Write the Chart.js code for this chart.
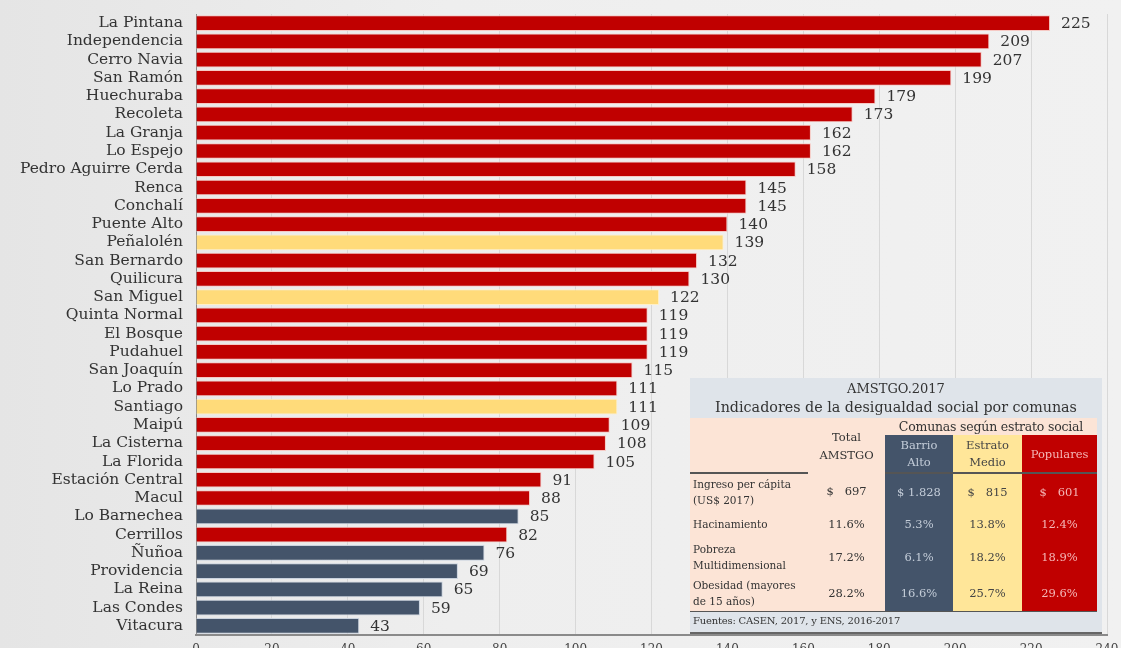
<!DOCTYPE html>
<html>
<head>
<meta charset="utf-8">
<script src="https://cdn.jsdelivr.net/npm/chart.js@4/dist/chart.umd.min.js"></script>
<style>
  html, body { margin:0; padding:0; width:1121px; height:648px; overflow:hidden;
    background: linear-gradient(to right, #e5e5e5 0%, #eeeeee 40%, #f1f1f1 100%); }
  #wrap { position:absolute; left:0; top:0; width:1121px; height:662px; }
  #panel { position:absolute; left:690px; top:378px; width:412px; height:255px;
    background:#dfe4ea; font-family:"DejaVu Serif", serif; color:#333; }
  #panel .t1 { position:absolute; left:0; width:412px; top:3px; text-align:center; font-size:13px; color:#333; }
  #panel .t2 { position:absolute; left:0; width:412px; top:21px; text-align:center; font-size:14.3px; color:#333; }
  #tbl { position:absolute; left:0; top:40px; border-collapse:collapse; font-size:10.5px; table-layout:fixed; }
  #tbl td { padding:0 3px; background:#fce4d6; color:#333; line-height:16px; white-space:nowrap; }
  #tbl .num { text-align:center; font-size:11.5px; }
  #tbl .ba { background:#44546a; color:#c3ccd8; text-align:center; font-size:11.5px; }
  #tbl .em { background:#ffe699; color:#444; text-align:center; font-size:11.5px; }
  #tbl .po { background:#c00000; color:#f4b6b6; text-align:center; font-size:11.5px; }
  #tbl tr.hdr td { border-bottom:2px solid #555; }
  #tbl tr.last td { border-bottom:1.5px solid #555; }
  #panel .src { position:absolute; left:3px; top:237px; font-size:10px; color:#333; letter-spacing:-0.2px; }
  #panel .bl { position:absolute; left:0; top:254px; width:412px; height:2px; background:#666; }
</style>
</head>
<body>
<div id="wrap"><canvas id="c" width="1121" height="662"></canvas></div>
<div id="panel">
  <div class="t1" id="t1"></div>
  <div class="t2" id="t2"></div>
  <table id="tbl"></table>
  <div class="src" id="src"></div>
  <div class="bl"></div>
</div>
<script>
const categories = ["La Pintana","Independencia","Cerro Navia","San Ramón","Huechuraba","Recoleta","La Granja","Lo Espejo","Pedro Aguirre Cerda","Renca","Conchalí","Puente Alto","Peñalolén","San Bernardo","Quilicura","San Miguel","Quinta Normal","El Bosque","Pudahuel","San Joaquín","Lo Prado","Santiago","Maipú","La Cisterna","La Florida","Estación Central","Macul","Lo Barnechea","Cerrillos","Ñuñoa","Providencia","La Reina","Las Condes","Vitacura"];
const values = [225,209,207,199,179,173,162,162,158,145,145,140,139,132,130,122,119,119,119,115,111,111,109,108,105,91,88,85,82,76,69,65,59,43];
const strata = ["P","P","P","P","P","P","P","P","P","P","P","P","M","P","P","M","P","P","P","P","P","M","P","P","P","P","P","A","P","A","A","A","A","A"];
const xTicks = [0,20,40,60,80,100,120,140,160,180,200,220,240];

const panelTitle = "AMSTGO.2017";
const panelSubtitle = "Indicadores de la desigualdad social por comunas";
const groupHeader = "Comunas según estrato social";
const colHeaders = ["Total<br>AMSTGO","Barrio<br>Alto","Estrato<br>Medio","Populares"];
const rowLabels = ["Ingreso per cápita<br>(US$ 2017)","Hacinamiento","Pobreza<br>Multidimensional","Obesidad (mayores<br>de 15 años)"];
const rowTotal = ["$&nbsp;&nbsp;&nbsp;697","11.6%","17.2%","28.2%"];
const rowAlto = ["$ 1.828","5.3%","6.1%","16.6%"];
const rowMedio = ["$&nbsp;&nbsp;&nbsp;815","13.8%","18.2%","25.7%"];
const rowPop = ["$&nbsp;&nbsp;&nbsp;601","12.4%","18.9%","29.6%"];
const rowHeights = [36,30,36,36];
const sourceText = "Fuentes: CASEN, 2017, y ENS, 2016-2017";

const colorMap = { P:"#c00000", M:"#ffdb7a", A:"#44546a" };
const borderMap = { P:"#f6c9c4", M:"#fff0c8", A:"#c9d2de" };

const valueLabels = {
  id:"valueLabels",
  afterDatasetsDraw(chart){
    const ctx = chart.ctx;
    const meta = chart.getDatasetMeta(0);
    ctx.save();
    ctx.font = "15.5px 'DejaVu Serif'";
    ctx.fillStyle = "#333";
    ctx.textBaseline = "middle";
    ctx.textAlign = "left";
    meta.data.forEach((el,i)=>{
      ctx.fillText(String(values[i]), el.x + 11, el.y + 1);
    });
    ctx.restore();
  }
};

new Chart(document.getElementById("c"), {
  type:"bar",
  data:{
    labels: categories,
    datasets:[{
      data: values,
      backgroundColor: strata.map(s=>colorMap[s]),
      borderColor: strata.map(s=>borderMap[s]),
      borderWidth: 1,
      categoryPercentage: 1,
      barPercentage: 0.86
    }]
  },
  options:{
    indexAxis:"y",
    responsive:false,
    animation:false,
    layout:{ padding:{ left:0, right:14, top:14, bottom:0 } },
    plugins:{ legend:{display:false}, tooltip:{enabled:false} },
    scales:{
      x:{
        min:0, max:240,
        afterBuildTicks(s){ s.ticks = xTicks.map(v=>({value:v})); },
        afterFit(s){ s.height = 27; s.paddingLeft = 0; s.paddingRight = 0; },
        grid:{ color:"#d8d8d8", lineWidth:1, drawTicks:false },
        border:{ display:true, color:"#8a8a8a", width:2 },
        ticks:{ padding:8, color:"#444", font:{ family:"DejaVu Serif", size:12 } }
      },
      y:{
        afterFit(s){ s.width = 196; s.paddingTop = 0; s.paddingBottom = 0; },
        grid:{ display:false, drawTicks:false },
        border:{ display:true, color:"#888", width:1 },
        ticks:{ padding:13, color:"#333", autoSkip:false, font:{ family:"DejaVu Serif", size:15.5 } }
      }
    }
  },
  plugins:[valueLabels]
});

// Panel
document.getElementById("t1").textContent = panelTitle;
document.getElementById("t2").textContent = panelSubtitle;
document.getElementById("src").textContent = sourceText;
const tbl = document.getElementById("tbl");
const widths = [118,77,68,69,75];
let html = "<colgroup>" + widths.map(w=>`<col style="width:${w}px">`).join("") + "</colgroup>";
html += `<tr style="height:17px"><td></td><td rowspan="2" class="num" style="vertical-align:middle;line-height:18px">${colHeaders[0]}</td><td colspan="3" style="text-align:center;font-size:12.5px;letter-spacing:-0.2px">${groupHeader}</td></tr>`;
html += `<tr class="hdr" style="height:38px"><td></td><td class="ba" style="line-height:17px">${colHeaders[1]}</td><td class="em" style="line-height:17px">${colHeaders[2]}</td><td class="po">${colHeaders[3]}</td></tr>`;
for (let i=0;i<rowLabels.length;i++){
  html += `<tr class="${i===rowLabels.length-1?'last':''}" style="height:${rowHeights[i]}px"><td>${rowLabels[i]}</td><td class="num">${rowTotal[i]}</td><td class="ba">${rowAlto[i]}</td><td class="em">${rowMedio[i]}</td><td class="po">${rowPop[i]}</td></tr>`;
}
tbl.innerHTML = html;
</script>
</body>
</html>
